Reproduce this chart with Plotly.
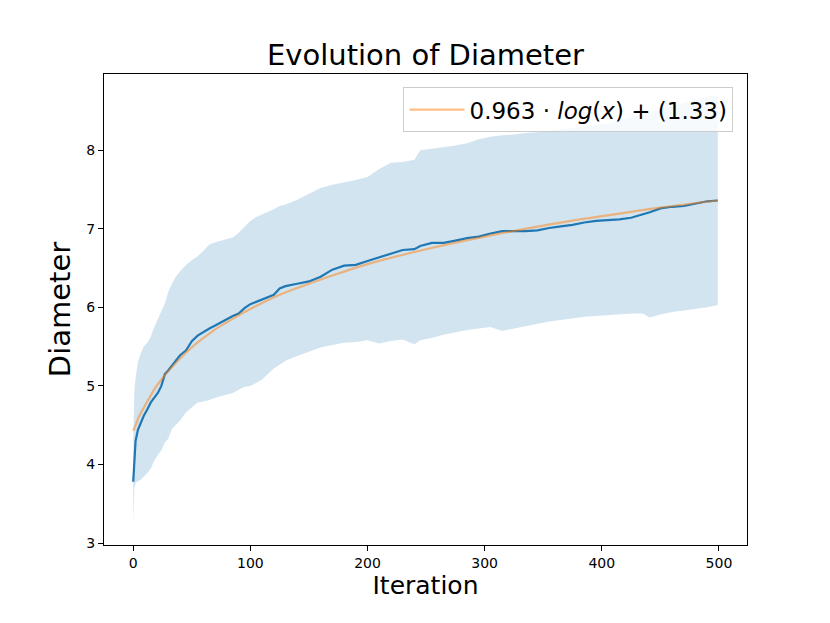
import plotly.graph_objects as go

# values
iteration = [0, 1, 2, 4, 6, 9, 12, 15, 18, 21, 24, 27, 30, 33, 36, 40, 45, 50, 55, 60,
             65, 70, 75, 80, 85, 90, 95, 100, 105, 110, 115, 120, 125, 130, 140, 150,
             160, 170, 180, 190, 200, 210, 220, 230, 240, 245, 255, 265, 275, 285, 295,
             305, 315, 325, 335, 345, 355, 365, 375, 385, 395, 405, 415, 425, 435, 441,
             450, 460, 470, 480, 490, 499]

mean_diam = [3.78, 4.15, 4.30, 4.44, 4.52, 4.62, 4.70, 4.79, 4.85, 4.91, 5.00, 5.15, 5.20,
             5.26, 5.31, 5.39, 5.45, 5.57, 5.64, 5.69, 5.73, 5.77, 5.81, 5.86, 5.89, 5.92,
             5.99, 6.04, 6.07, 6.10, 6.13, 6.16, 6.24, 6.27, 6.30, 6.33, 6.39, 6.48, 6.53,
             6.54, 6.59, 6.64, 6.68, 6.73, 6.74, 6.78, 6.82, 6.82, 6.85, 6.88, 6.90, 6.94,
             6.97, 6.97, 6.97, 6.98, 7.01, 7.03, 7.05, 7.08, 7.10, 7.11, 7.12, 7.14, 7.18,
             7.21, 7.26, 7.28, 7.29, 7.32, 7.35, 7.36]

upper_diam = [4.30, 4.95, 5.10, 5.30, 5.40, 5.50, 5.55, 5.63, 5.75, 5.86, 5.95, 6.05, 6.20,
              6.30, 6.38, 6.46, 6.54, 6.60, 6.65, 6.72, 6.80, 6.83, 6.85, 6.87, 6.89, 6.95,
              7.02, 7.10, 7.15, 7.18, 7.22, 7.25, 7.29, 7.31, 7.37, 7.44, 7.52, 7.56, 7.59,
              7.62, 7.66, 7.76, 7.84, 7.85, 7.88, 8.00, 8.02, 8.04, 8.06, 8.09, 8.14, 8.17,
              8.19, 8.20, 8.22, 8.23, 8.25, 8.27, 8.28, 8.30, 8.32, 8.34, 8.38, 8.42, 8.46,
              8.48, 8.52, 8.56, 8.60, 8.64, 8.68, 8.70]

lower_diam = [3.25, 3.70, 3.76, 3.79, 3.80, 3.84, 3.89, 3.95, 4.05, 4.12, 4.18, 4.28, 4.33,
              4.45, 4.50, 4.56, 4.66, 4.72, 4.79, 4.80, 4.82, 4.85, 4.87, 4.89, 4.91, 4.95,
              4.99, 5.00, 5.04, 5.08, 5.15, 5.22, 5.27, 5.32, 5.38, 5.43, 5.49, 5.52, 5.55,
              5.56, 5.58, 5.54, 5.57, 5.59, 5.53, 5.58, 5.61, 5.65, 5.68, 5.71, 5.73, 5.75,
              5.70, 5.73, 5.76, 5.79, 5.82, 5.84, 5.86, 5.88, 5.89, 5.90, 5.91, 5.92, 5.92,
              5.87, 5.91, 5.94, 5.96, 5.98, 6.00, 6.03]

# fitted log curve as drawn
fit_x = [0, 2, 5, 10, 15, 20, 30, 40, 50, 60, 70, 80, 90, 100, 125, 150, 175, 200, 250,
         300, 350, 400, 450, 499]
fit_y = [4.43, 4.50, 4.61, 4.75, 4.88, 5.00, 5.19, 5.35, 5.49, 5.61, 5.72, 5.81, 5.90,
         5.98, 6.16, 6.30, 6.43, 6.55, 6.74, 6.90, 7.04, 7.16, 7.27, 7.36]
fit_label = "0.963 · <i>log</i>(<i>x</i>) + (1.33)"

FONT = "DejaVu Sans"

fig = go.Figure()
fig.add_trace(go.Scatter(x=iteration, y=lower_diam, mode='lines', line=dict(width=0),
                         showlegend=False, hoverinfo='skip'))
fig.add_trace(go.Scatter(x=iteration, y=upper_diam, mode='lines', line=dict(width=0),
                         fill='tonexty', fillcolor='rgba(31,119,180,0.2)',
                         showlegend=False, hoverinfo='skip'))
fig.add_trace(go.Scatter(x=iteration, y=mean_diam, mode='lines',
                         line=dict(color='#1f77b4', width=2.2), showlegend=False))
fig.add_trace(go.Scatter(x=fit_x, y=fit_y, mode='lines', name=fit_label,
                         line=dict(color='rgba(255,127,14,0.5)', width=2.2, shape='spline')))

axis_common = dict(showline=True, linecolor='black', linewidth=1, mirror=True,
                   ticks='outside', ticklen=5, tickcolor='black', showgrid=False,
                   zeroline=False, tickfont=dict(family=FONT, size=14, color='black'))

# the page adds an 8px body margin, so margins are shifted to compensate
fig.update_layout(
    width=830, height=623,
    paper_bgcolor='white', plot_bgcolor='white',
    margin=dict(l=96, r=91, t=66, b=86),
    font=dict(family=FONT, color='black'),
    title=dict(text='Evolution of Diameter', x=0.503, xanchor='center',
               y=0.9246, yanchor='middle', font=dict(family=FONT, size=29)),
    xaxis=dict(range=[-24.95, 523.95], tickvals=[0, 100, 200, 300, 400, 500],
               title=dict(text='Iteration', font=dict(family=FONT, size=25), standoff=6),
               **axis_common),
    yaxis=dict(range=[2.975, 8.97], tickvals=[3, 4, 5, 6, 7, 8],
               title=dict(text='Diameter', font=dict(family=FONT, size=29), standoff=7),
               **axis_common),
    legend=dict(x=0.979, y=0.972, xanchor='right', yanchor='top',
                bgcolor='rgba(255,255,255,0.8)', bordercolor='#cccccc', borderwidth=1,
                font=dict(family=FONT, size=23), itemwidth=55),
)

fig.write_html("out.html")
